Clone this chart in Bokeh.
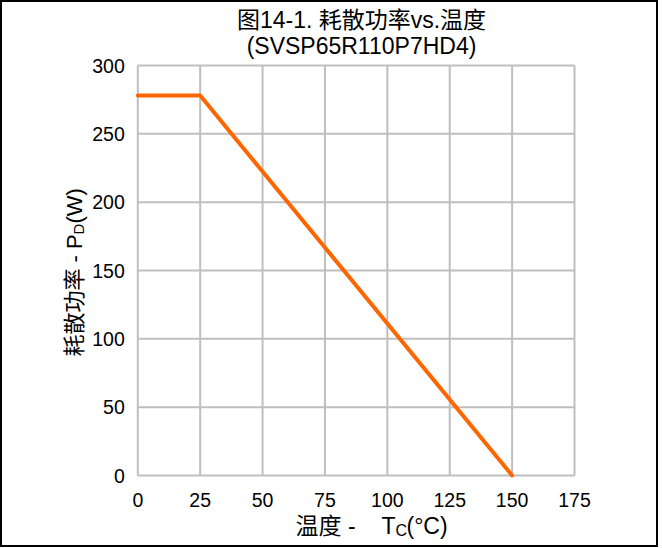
from bokeh.plotting import figure
from bokeh.models import Label, FixedTicker, Range1d
from bokeh.embed import file_html
from bokeh.resources import INLINE
import math

# ---- data ----
temp_c = [0, 25, 150]
power_w = [278, 278, 0]
x_ticks = [0, 25, 50, 75, 100, 125, 150, 175]
y_ticks = [0, 50, 100, 150, 200, 250, 300]
X_MIN, X_MAX = 0, 175
Y_MIN, Y_MAX = 0, 300

title_line1 = "图14-1. 耗散功率vs.温度"
title_line2 = "(SVSP65R110P7HD4)"

LATIN = "'Liberation Sans', Arial, 'Noto Sans CJK SC'"
CJK = "'Liberation Sans', 'Noto Sans CJK SC'"
GRID = "#BFBFBF"

# ---- geometry (canvas pixels) ----
W, H = 658, 547
PX_LEFT, PX_RIGHT = 137.3, 574.0     # pixel of X_MIN / X_MAX
PX_BOTTOM, PX_TOP = 475.0, 65.0      # pixel of Y_MIN / Y_MAX
SX = (PX_RIGHT - PX_LEFT) / (X_MAX - X_MIN)
SY = (PX_BOTTOM - PX_TOP) / (Y_MAX - Y_MIN)


def dx(px):
    return X_MIN + (px - PX_LEFT) / SX


def dy(py):
    return Y_MIN + (PX_BOTTOM - py) / SY


p = figure(width=W, height=H,
           x_range=Range1d(dx(0), dx(W)), y_range=Range1d(dy(H), dy(0)),
           output_backend="svg", toolbar_location=None,
           min_border_left=0, min_border_right=0,
           min_border_top=0, min_border_bottom=0)
p.background_fill_color = "white"
p.border_fill_color = "white"
p.outline_line_color = "black"
p.outline_line_width = 3
p.grid.visible = False

# axes drawn at the plot-area edges
xa = p.xaxis[0]
ya = p.yaxis[0]
xa.fixed_location = Y_MIN
ya.fixed_location = X_MIN
xa.ticker = FixedTicker(ticks=x_ticks)
ya.ticker = FixedTicker(ticks=y_ticks)
xa.major_label_standoff = 17
ya.major_label_standoff = 13
for ax in (xa, ya):
    ax.axis_line_color = None
    ax.major_tick_line_color = None
    ax.minor_tick_line_color = None
    ax.major_tick_out = 0
    ax.major_tick_in = 0
    ax.major_label_text_font = LATIN
    ax.major_label_text_font_size = "19.5px"
    ax.major_label_text_color = "black"

# grid lines / plot-area box
p.segment(x0=x_ticks, y0=[Y_MIN] * len(x_ticks), x1=x_ticks, y1=[Y_MAX] * len(x_ticks),
          line_color=GRID, line_width=2)
p.segment(x0=[X_MIN] * len(y_ticks), y0=y_ticks, x1=[X_MAX] * len(y_ticks), y1=y_ticks,
          line_color=GRID, line_width=2)

p.line(temp_c, power_w, line_color="#FF6600", line_width=4, line_cap="round", line_join="round")

# ---- title ----
p.add_layout(Label(x=dx(361), y=dy(19), text=title_line1, text_align="center",
                   text_baseline="alphabetic", text_font=CJK, text_font_size="23px",
                   text_color="black"))
p.add_layout(Label(x=dx(361), y=dy(45), text=title_line2, text_align="center",
                   text_baseline="alphabetic", text_font=LATIN, text_font_size="23px",
                   text_color="black"))

# ---- x axis label: 温度 - T_C(°C) ----
p.add_layout(Label(x=dx(295), y=dy(525), text="温度 -", text_align="left",
                   text_baseline="alphabetic", text_font=CJK, text_font_size="23px",
                   text_color="black"))
p.add_layout(Label(x=dx(381), y=dy(525), text="T", text_align="left",
                   text_baseline="alphabetic", text_font=LATIN, text_font_size="23px",
                   text_color="black"))
p.add_layout(Label(x=dx(395), y=dy(529.5), text="C", text_align="left",
                   text_baseline="alphabetic", text_font=LATIN, text_font_size="16px",
                   text_color="black"))
p.add_layout(Label(x=dx(406), y=dy(525), text="(°C)", text_align="left",
                   text_baseline="alphabetic", text_font=LATIN, text_font_size="23px",
                   text_color="black"))

# ---- y axis label: 耗散功率 - P_D(W) (rotated) ----
p.add_layout(Label(x=dx(74), y=dy(356), text="耗散功率 - P", angle=math.pi / 2,
                   text_align="left", text_baseline="alphabetic", text_font=CJK,
                   text_font_size="22px", text_color="black"))
p.add_layout(Label(x=dx(78), y=dy(234), text="D", angle=math.pi / 2,
                   text_align="left", text_baseline="alphabetic", text_font=LATIN,
                   text_font_size="15px", text_color="black"))
p.add_layout(Label(x=dx(74), y=dy(223), text="(W)", angle=math.pi / 2,
                   text_align="left", text_baseline="alphabetic", text_font=LATIN,
                   text_font_size="22px", text_color="black"))

open("out.html", "w").write(file_html(p, INLINE))
